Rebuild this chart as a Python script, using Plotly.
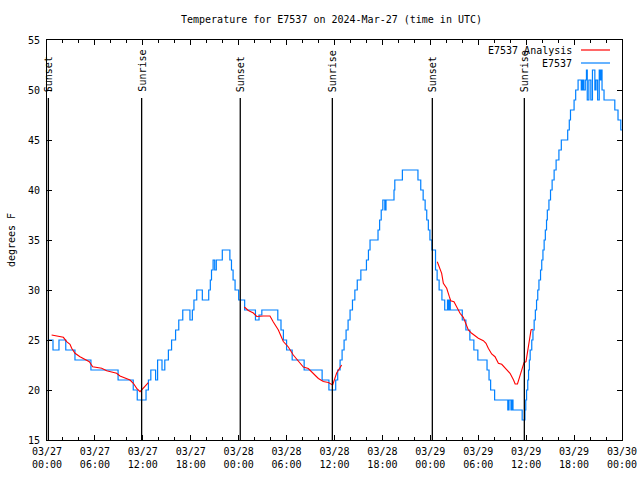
import plotly.graph_objects as go

# ---- data (hours since 2024-03-27 00:00 UTC) ----
obs_hours = [0.17, 0.75, 1.5, 2.35, 3.5, 5.5, 8.9, 10.8, 11.3, 12.4, 12.7, 13.0, 13.6, 13.85, 14.4, 14.75,
             15.2, 15.6, 16.1, 16.5, 17.0, 17.9, 18.2, 18.4, 18.75, 19.45, 20.25, 20.45, 20.6, 20.8, 21.0,
             21.2, 21.95, 22.9, 23.1, 23.3, 23.55, 24.0, 24.75, 26.1, 26.55, 26.9, 28.9, 29.3, 29.6, 30.0,
             30.7, 32.2, 34.45, 35.3, 36.15, 36.4, 36.7, 36.95, 37.2, 37.45, 37.7, 37.95, 38.25, 38.55,
             38.85, 39.3, 40.0, 40.25, 40.45, 41.45, 41.65, 41.85, 42.05, 42.3, 42.45, 43.45, 43.55, 44.5,
             46.45, 46.8, 47.1, 47.35, 47.55, 47.75, 47.95, 48.2, 48.65, 48.85, 49.1, 49.45, 49.8, 50.15,
             50.3, 50.4, 50.5, 52.0, 52.45, 52.95, 53.45, 53.95, 55.1, 55.35, 55.55, 56.05, 57.7, 57.85,
             58.1, 58.2, 58.35, 59.5, 59.85, 59.95, 60.05, 60.2, 60.3, 60.4, 60.5, 60.7, 60.85, 61.0,
             61.15, 61.3, 61.45, 61.6, 61.8, 61.95, 62.1, 62.25, 62.4, 62.55, 62.65, 62.85, 63.05, 63.25,
             63.5, 63.75, 64.1, 64.4, 65.2, 65.4, 65.55, 66.0, 66.2, 66.5, 66.9, 67.05, 67.2, 67.4, 67.55,
             67.65, 67.85, 68.1, 68.3, 68.6, 68.75, 68.95, 69.15, 69.25, 69.35, 69.5, 69.75, 71.1, 71.5,
             71.85, 72.0]
obs_temp = [25, 24, 25, 24, 23, 22, 21, 20, 19, 20, 21, 22, 21, 23, 22, 23,
            24, 25, 26, 27, 28, 27, 28, 29, 30, 29, 30, 31, 32, 33, 32,
            33, 34, 33, 32, 31, 30, 29, 28, 27, 27.5, 28, 27, 26, 25, 24,
            23, 22, 21, 20, 21, 22, 23, 24, 25, 26, 27, 28, 29, 30,
            31, 32, 33, 34, 35, 36, 37, 38, 39, 38, 39, 40, 41, 42,
            41, 40, 39, 38, 37, 36, 35, 34, 32, 31, 30, 29, 28, 29,
            28, 29, 28, 27, 26, 25, 24, 23, 22, 21, 20, 19, 18, 19,
            18, 19, 18, 17, 18, 19, 20, 21, 22, 23, 24, 25, 26, 27,
            28, 29, 30, 31, 32, 33, 34, 35, 36, 37, 38, 39, 40, 41,
            42, 43, 44, 45, 46, 47, 48, 49, 50, 51, 50, 51, 50, 51, 52,
            49, 51, 49, 52, 50, 51, 49, 52, 51, 52, 50, 49, 48, 47,
            46, 46]

analysis_hours = [0.58, 1.42, 2.05, 2.46, 2.88, 3.09, 3.51, 4.13, 4.76, 5.3, 5.72, 6.22, 6.85, 7.47, 8.1,
                  8.72, 9.14, 9.77, 10.39, 10.81, 11.23, 11.65, 12.06, 12.69, None,
                  24.71, 25.21, 25.84, 26.26, 27.09, 27.92, 28.34, 28.97, 29.59, 30.22, 30.84, 31.47, 32.1,
                  32.72, 33.35, 33.98, 34.6, 35.23, 35.77, 36.27, 36.9, None,
                  48.87, 49.42, 49.63, 50.05, 50.38, 50.55, 50.96, 51.3, 51.72, 52.13, 52.34, 52.76, 53.18,
                  53.59, 54.01, 54.64, 54.97, 55.26, 55.68, 56.1, 56.52, 56.94, 57.35, 57.77, 57.98, 58.42,
                  58.62, 58.91, 59.23, 59.44, 59.73, 59.98, 60.15, 60.4, 60.61, 60.82]
analysis_temp = [25.5, 25.33, 25.27, 24.83, 24.57, 24.17, 23.67, 23.33, 23.07, 22.83, 22.33, 22.23, 22.17,
                 21.93, 21.83, 21.67, 21.4, 21.17, 21.0, 20.67, 20.17, 19.83, 20.17, 20.73, None,
                 28.3, 27.95, 27.7, 27.35, 27.4, 27.4, 26.8, 26.0, 24.85, 24.3, 23.5, 22.85, 22.3,
                 22.15, 21.65, 21.15, 20.85, 20.75, 20.5, 21.7, 22.5, None,
                 32.83, 31.67, 30.67, 30.17, 29.33, 28.93, 28.83, 28.33, 27.67, 27.27, 26.83, 26.0, 25.67,
                 25.4, 25.17, 24.93, 24.67, 24.17, 23.6, 23.33, 22.67, 22.57, 22.17, 21.83, 21.67, 21.0,
                 20.6, 20.6, 21.5, 22.17, 22.73, 22.83, 23.83, 25.0, 26.0, 26.07]

sun_event_hours = [0.17, 11.85, 24.2, 35.73, 48.25, 59.77]
sun_event_labels = ["Sunset", "Sunrise", "Sunset", "Sunrise", "Sunset", "Sunrise"]

x_tickvals = [0, 6, 12, 18, 24, 30, 36, 42, 48, 54, 60, 66, 72]
x_ticktext = ["03/27<br>00:00", "03/27<br>06:00", "03/27<br>12:00", "03/27<br>18:00",
              "03/28<br>00:00", "03/28<br>06:00", "03/28<br>12:00", "03/28<br>18:00",
              "03/29<br>00:00", "03/29<br>06:00", "03/29<br>12:00", "03/29<br>18:00",
              "03/30<br>00:00"]
y_tickvals = [15, 20, 25, 30, 35, 40, 45, 50, 55]

FONT = "DejaVu Sans Mono"
BLUE = "#0080ff"
RED = "#ff0000"

fig = go.Figure()
fig.add_trace(go.Scatter(x=obs_hours, y=obs_temp, mode="lines", name="E7537",
                         line=dict(color=BLUE, width=1.2, shape="hv")))
fig.add_trace(go.Scatter(x=analysis_hours, y=analysis_temp, mode="lines", name="E7537 Analysis",
                         line=dict(color=RED, width=1.1), connectgaps=False))

for h, lab in zip(sun_event_hours, sun_event_labels):
    fig.add_shape(type="line", x0=h, x1=h, y0=15, y1=49.2, xref="x", yref="y",
                  line=dict(color="black", width=1.3))
    fig.add_annotation(x=h, y=49.8, xref="x", yref="y", text=lab, textangle=-90,
                       showarrow=False, xanchor="center", yanchor="bottom", yshift=-2,
                       font=dict(family=FONT, size=10, color="black"))

# legend (gnuplot style: text left, sample right)
legend_items = [("E7537 Analysis", RED), ("E7537", BLUE)]
for i, (name, col) in enumerate(legend_items):
    ypx = 50 + 13 * i
    yp = 1 - (ypx - 40) / 400
    fig.add_annotation(x=(574 - 47) / 575, y=yp, xref="paper", yref="paper", text=name,
                       showarrow=False, xanchor="right", yanchor="middle",
                       font=dict(family=FONT, size=10, color="black"))
    fig.add_shape(type="line", xref="paper", yref="paper",
                  x0=(581 - 47) / 575, x1=(610 - 47) / 575, y0=yp, y1=yp,
                  line=dict(color=col, width=1.2))

axis_common = dict(showline=True, linecolor="black", linewidth=1, mirror="ticks",
                   ticks="inside", tickcolor="black", showgrid=False, zeroline=False,
                   tickfont=dict(family=FONT, size=10, color="black"))

fig.update_xaxes(range=[0, 72], tickmode="array", tickvals=x_tickvals, ticktext=x_ticktext,
                 ticklen=5, ticklabelstandoff=2,
                 minor=dict(dtick=2, ticks="inside", ticklen=3, tickcolor="black", showgrid=False),
                 **axis_common)
fig.update_yaxes(range=[15, 55], tickmode="array", tickvals=y_tickvals, ticklen=5,
                 title=dict(text="degrees F", font=dict(family=FONT, size=10, color="black"), standoff=10),
                 ticklabelstandoff=4, **axis_common)

fig.update_layout(
    width=640, height=480,
    margin=dict(l=47, r=18, t=40, b=40, autoexpand=False),
    paper_bgcolor="white", plot_bgcolor="white",
    showlegend=False,
    font=dict(family=FONT, size=10, color="black"),
    title=dict(text="Temperature for E7537 on 2024-Mar-27 (time in UTC)", x=331.5 / 640, xanchor="center",
               y=1 - 19 / 480, yanchor="middle", yref="container",
               font=dict(family=FONT, size=10, color="black")),
)

fig.write_html("out.html", config={"displayModeBar": False},
               post_script="document.body.style.margin='0';document.body.style.padding='0';")
